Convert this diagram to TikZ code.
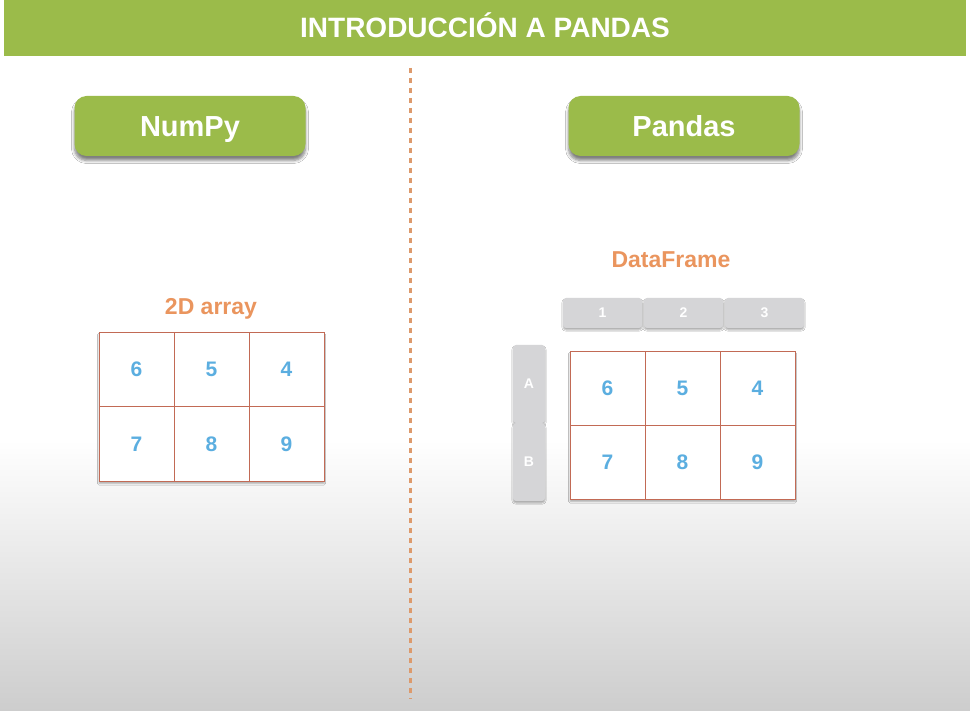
\documentclass[tikz,border=0pt]{standalone}
\usepackage{fontspec}
\setmainfont{Liberation Sans}
\usetikzlibrary{shadows.blur}

\definecolor{leaf}{HTML}{9BBB4A}
\definecolor{tangerine}{HTML}{EA955E}
\definecolor{sky}{HTML}{5BAEE0}
\definecolor{brick}{HTML}{C26A55}
\definecolor{dotline}{HTML}{DD9A6C}
\definecolor{tabgray}{HTML}{D5D5D7}
\definecolor{floorgray}{HTML}{CDCDCD}

\tikzset{
  banner/.style={fill=leaf, minimum width=962pt, minimum height=56pt, inner sep=0pt,
    text=white, font=\bfseries\fontsize{28}{30}\selectfont, text height=20pt, text depth=0pt},
  pill/.style={fill=leaf, rounded corners=12pt, minimum width=231pt, minimum height=60pt,
    inner sep=0pt, text=white, font=\bfseries\fontsize{29}{31}\selectfont,
    text height=20.8pt, text depth=0pt,
    blur shadow={shadow xshift=0pt, shadow yshift=-4.5pt, shadow blur radius=3pt,
      shadow blur steps=6, shadow opacity=50}},
  caption/.style={text=tangerine, font=\bfseries\fontsize{23}{25}\selectfont, inner sep=0pt,
    text height=16.5pt, text depth=0pt},
  cell/.style={draw=brick, line width=0.8pt, fill=white, minimum width=75pt, minimum height=74.5pt,
    inner sep=0pt, outer sep=0pt, text=sky, font=\bfseries\fontsize{21}{23}\selectfont,
    text height=15pt, text depth=0pt},
  gridshadow/.style={fill=white, blur shadow={shadow xshift=0pt, shadow yshift=-2.5pt,
    shadow blur radius=1.5pt, shadow blur steps=5, shadow opacity=30}},
  coltab/.style={fill=tabgray, rounded corners=3pt, minimum width=79pt, minimum height=30pt,
    inner sep=0pt, text=white, font=\bfseries\fontsize{14}{16}\selectfont,
    text height=10pt, text depth=0pt,
    blur shadow={shadow xshift=0pt, shadow yshift=-2pt, shadow blur radius=1.2pt,
      shadow blur steps=4, shadow opacity=30}},
  rowtab/.style={fill=tabgray, rounded corners=3pt, minimum width=32pt, minimum height=78pt,
    inner sep=0pt, text=white, font=\bfseries\fontsize{14}{16}\selectfont,
    text height=10pt, text depth=0pt,
    blur shadow={shadow xshift=0pt, shadow yshift=-2pt, shadow blur radius=1.2pt,
      shadow blur steps=4, shadow opacity=30}},
  divider/.style={draw=dotline, line width=3pt, dash pattern=on 5pt off 5pt}
}

\begin{document}
\begin{tikzpicture}[x=1pt, y=-1pt]
  \useasboundingbox (0,0) rectangle (970,711);
  % page background: white fading to light gray towards the bottom
  \fill[white] (0,0) rectangle (970,441);
  \shade[top color=white, bottom color=floorgray] (0,440) rectangle (970,711);

  % title bar
  \node[banner] (title) at (485,28) {INTRODUCCIÓN A PANDAS};

  % vertical separator
  \coordinate (dtop) at (410,68);
  \coordinate (dbot) at (410,699);
  \draw[divider] (dtop) -- (dbot);

  % section buttons
  \node[pill] (numpy) at (190,126) {NumPy};
  \node[pill] (pandas) at (684,126) {Pandas};

  % ---- NumPy side: 2D array ----
  \node[caption] (arrcap) at (211,306) {2D array};
  \fill[gridshadow] (99,332) rectangle (324,481);
  \node[cell] (a11) at (136.5,369.25) {6};
  \node[cell] (a12) at (211.5,369.25) {5};
  \node[cell] (a13) at (286.5,369.25) {4};
  \node[cell] (a21) at (136.5,443.75) {7};
  \node[cell] (a22) at (211.5,443.75) {8};
  \node[cell] (a23) at (286.5,443.75) {9};

  % ---- Pandas side: DataFrame ----
  \node[caption] (dfcap) at (671,259) {DataFrame};

  \node[coltab] (c1) at (602.5,313) {1};
  \node[coltab] (c2) at (683.5,313) {2};
  \node[coltab] (c3) at (764.5,313) {3};

  \node[rowtab] (rA) at (529,384) {A};
  \node[rowtab] (rB) at (529,462) {B};

  \fill[gridshadow] (570,351) rectangle (795,499);
  \node[cell, minimum height=74pt] (d11) at (607.5,388) {6};
  \node[cell, minimum height=74pt] (d12) at (682.5,388) {5};
  \node[cell, minimum height=74pt] (d13) at (757.5,388) {4};
  \node[cell, minimum height=74pt] (d21) at (607.5,462) {7};
  \node[cell, minimum height=74pt] (d22) at (682.5,462) {8};
  \node[cell, minimum height=74pt] (d23) at (757.5,462) {9};
\end{tikzpicture}
\end{document}
